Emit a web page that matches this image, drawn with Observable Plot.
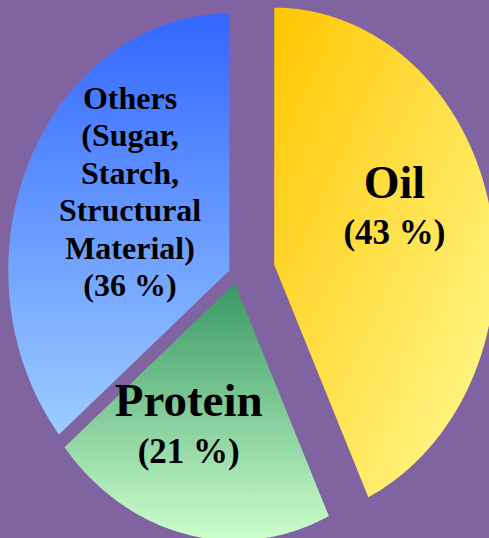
<!DOCTYPE html>
<html><head><meta charset="utf-8">
<script src="https://cdn.jsdelivr.net/npm/d3@7"></script>
<script src="https://cdn.jsdelivr.net/npm/@observablehq/plot@0.6"></script>
<style>html,body{margin:0;padding:0;background:#7F64A1;overflow:hidden}</style>
</head><body><div id="chart"></div>
<script>
// ---- data ----
const categories = ["Oil", "Protein", "Others"];
const shares = [43, 21, 36];
const nameLabels = ["Oil", "Protein", "Others\n(Sugar,\nStarch,\nStructural\nMaterial)"];
const percentLabels = shares.map(v => `(${v} %)`);

// ---- layout / style ----
const W = 489, H = 538;
const RX = 221, RY = 257, OX = 236, OY = 274; // ellipse radii and centre (px)
const FONT = "'Liberation Serif', 'Times New Roman', serif";
const look = {
  Oil:     {explode: 0.175, r: 0.55, da: 4,     nameSize: 46, pctSize: 35, gap: 46, lh: 1.2,
            grad: {x1: 0, y1: 0, x2: 1, y2: 1, stops: ["#FFC600", "#FFFC96"]}},
  Protein: {explode: 0.036, r: 0.73, da: 4,     nameSize: 47, pctSize: 35, gap: 47, lh: 1.2,
            grad: {x1: 0, y1: 0, x2: 0, y2: 1, stops: ["#389865", "#CCFFCC"]}},
  Others:  {explode: 0.036, r: 0.46, da: -37.5, nameSize: 32, pctSize: 32, gap: 37, lh: 1.17,
            grad: {x1: 0, y1: 0, x2: 0, y2: 1, stops: ["#3366FF", "#9CCDFF"]}}
};

const arcs = d3.pie().sort(null).value(d => d)(shares);
const rad = Math.PI / 180;

const slices = arcs.map((a, i) => {
  const L = look[categories[i]];
  const mid = (a.startAngle + a.endAngle) / 2;
  const cx = L.explode * Math.sin(mid), cy = L.explode * Math.cos(mid);
  const pts = [{x: cx, y: cy}];
  const n = Math.ceil((a.endAngle - a.startAngle) / (0.5 * rad));
  for (let k = 0; k <= n; k++) {
    const t = a.startAngle + (a.endAngle - a.startAngle) * k / n;
    pts.push({x: cx + Math.sin(t), y: cy + Math.cos(t)});
  }
  const la = mid + L.da * rad;
  const label = {x: cx + L.r * Math.sin(la), y: cy + L.r * Math.cos(la),
                 name: nameLabels[i], pct: percentLabels[i]};
  return {i, L, pts, label};
});

const marks = [];
for (const s of slices) {
  marks.push(Plot.line(s.pts, {x: "x", y: "y", curve: "linear-closed",
    fill: `url(#grad${s.i})`, stroke: "none"}));
}
for (const s of slices) {
  marks.push(Plot.text([s.label], {x: "x", y: "y", text: "pct", lineAnchor: "bottom",
    fontSize: s.L.pctSize, fontWeight: "bold", fontFamily: FONT, fill: "black"}));
  marks.push(Plot.text([s.label], {x: "x", y: "y", text: "name", lineAnchor: "bottom",
    dy: -s.L.gap, lineHeight: s.L.lh,
    fontSize: s.L.nameSize, fontWeight: "bold", fontFamily: FONT, fill: "black"}));
}

const svg = Plot.plot({
  width: W, height: H, margin: 0,
  x: {domain: [-OX / RX, (W - OX) / RX], axis: null},
  y: {domain: [-(H - OY) / RY, OY / RY], axis: null},
  style: {background: "transparent", overflow: "visible"},
  marks
});

const defs = d3.select(svg).insert("defs", ":first-child");
slices.forEach(s => {
  const g = s.L.grad;
  const lg = defs.append("linearGradient").attr("id", `grad${s.i}`)
    .attr("x1", g.x1).attr("y1", g.y1).attr("x2", g.x2).attr("y2", g.y2);
  g.stops.forEach((c, k) => lg.append("stop").attr("offset", k / (g.stops.length - 1)).attr("stop-color", c));
});

document.getElementById("chart").appendChild(svg);
</script>
</body></html>
